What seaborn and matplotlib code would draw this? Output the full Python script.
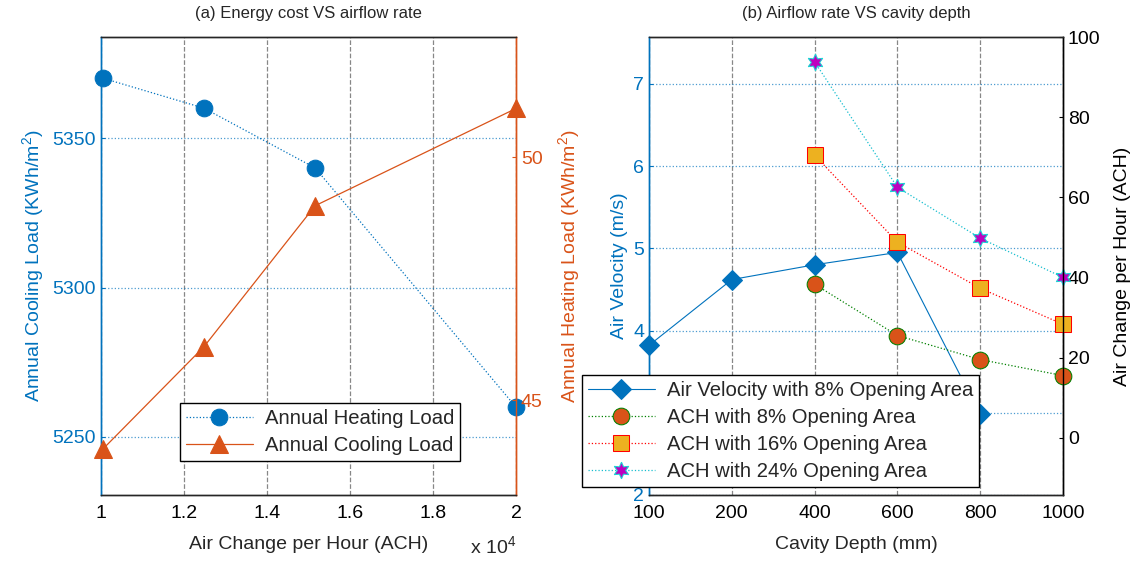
import numpy as np
import matplotlib
matplotlib.use('Agg')
import matplotlib.pyplot as plt
import seaborn as sns
from matplotlib.ticker import FuncFormatter

# (a) energy cost vs airflow rate
ach = [10050, 12480, 15160, 20000]
heating = [5370, 5360, 5340, 5260]      # plotted on left (blue) axis
cooling = [44.0, 46.1, 49.0, 51.0]      # plotted on right (orange) axis

# (b) airflow rate vs cavity depth
depths = ['100', '200', '400', '600', '800', '1000']
velocity = [3.82, 4.62, 4.80, 4.95, 2.98]
ach_depths = ['400', '600', '800', '1000']
ach8 = [38.3, 25.5, 19.5, 15.5]
ach16 = [70.5, 48.8, 37.3, 28.3]
ach24 = [93.8, 62.5, 49.8, 40.0]

BLUE = '#0072BD'
ORANGE = '#D95319'
YELLOW = '#EDB120'

sns.set_style('white')
plt.rcParams['font.family'] = ['Liberation Sans', 'DejaVu Sans']
plt.rcParams['font.size'] = 14
plt.rcParams['mathtext.fontset'] = 'custom'
plt.rcParams['mathtext.rm'] = 'Liberation Sans'

fig = plt.figure(figsize=(11.38, 5.67), dpi=100)
ax1 = fig.add_axes([0.0888, 0.127, 0.3646, 0.8077])
ax2 = ax1.twinx()
ax3 = fig.add_axes([0.5703, 0.127, 0.3638, 0.8077])
ax4 = ax3.twinx()


def style_axes(ax, left_color, right_color):
    for s in ax.spines.values():
        s.set_linewidth(1.0)
    ax.spines['left'].set_color(left_color)
    ax.spines['right'].set_color(right_color)
    ax.tick_params(direction='in', length=3, width=0.8)
    ax.tick_params(axis='x', pad=7)


# ---- panel (a)
sns.lineplot(x=ach, y=heating, ax=ax1, color=BLUE, marker='o', markersize=12,
             linestyle=':', linewidth=0.9, markeredgecolor=BLUE, label='Annual Heating Load',
             legend=False, clip_on=False, zorder=3)
sns.lineplot(x=ach, y=cooling, ax=ax2, color=ORANGE, marker='^', markersize=13,
             linewidth=0.9, markeredgecolor=ORANGE, label='Annual Cooling Load', legend=False,
             clip_on=False, zorder=3)

ax1.set_xlim(10000, 20000)
ax1.set_xticks([10000, 12000, 14000, 16000, 18000, 20000])
ax1.xaxis.set_major_formatter(FuncFormatter(lambda v, p: f'{v/1e4:g}'))
ax1.set_ylim(5230.6, 5383.8)
ax1.set_yticks([5250, 5300, 5350])
ax2.set_ylim(43.05, 52.47)
ax2.set_yticks([45, 50])

ax1.yaxis.grid(True, color=BLUE, linestyle=':', linewidth=0.9, alpha=0.7)
ax1.xaxis.grid(True, color='#555555', linestyle='--', linewidth=0.9, alpha=0.7)
ax1.tick_params(axis='y', colors=BLUE)
ax1.tick_params(axis='x', colors='black')
ax2.tick_params(axis='y', colors=ORANGE)
style_axes(ax1, BLUE, ORANGE)
style_axes(ax2, BLUE, ORANGE)

ax1.set_xlabel('Air Change per Hour (ACH)', labelpad=10)
ax1.set_ylabel('Annual Cooling Load (KWh/m$^2$)', color=BLUE, labelpad=4)
ax2.set_ylabel('Annual Heating Load (KWh/m$^2$)', color=ORANGE, labelpad=10)
ax1.set_title('(a) Energy cost VS airflow rate', fontsize=12, pad=14)
fig.text(0.413, 0.022, r'x 10$^4$', fontsize=14)

h1, l1 = ax1.get_legend_handles_labels()
h2, l2 = ax2.get_legend_handles_labels()
leg = ax2.legend(h1 + h2, l1 + l2, loc='upper left', bbox_to_anchor=(0.158, 0.290),
                 bbox_transform=fig.transFigure, fancybox=False, edgecolor='black',
                 framealpha=1, handlelength=3.3, borderpad=0.3, labelspacing=0.4,
                 handletextpad=0.6, borderaxespad=0, fontsize=14.6)
leg.get_frame().set_linewidth(1.0)

# ---- panel (b)
pos = {d: i for i, d in enumerate(depths)}
vel_x = [pos[d] for d in depths[:len(velocity)]]
ach_x = [pos[d] for d in ach_depths]

sns.lineplot(x=vel_x, y=velocity, ax=ax3, color=BLUE, marker='D', markersize=10,
             linewidth=0.8, markeredgecolor=BLUE, clip_on=False,
             label='Air Velocity with 8% Opening Area', legend=False)
sns.lineplot(x=ach_x, y=ach8, ax=ax4, color='green', marker='o', markersize=12,
             linestyle=':', linewidth=0.9, markerfacecolor=ORANGE, markeredgecolor='green',
             label='ACH with 8% Opening Area', legend=False, clip_on=False)
sns.lineplot(x=ach_x, y=ach16, ax=ax4, color='red', marker='s', markersize=11,
             linestyle=':', linewidth=0.9, markerfacecolor=YELLOW, markeredgecolor='red',
             label='ACH with 16% Opening Area', legend=False, clip_on=False)
sns.lineplot(x=ach_x, y=ach24, ax=ax4, color='#17BECF', marker=(6, 1, 0), markersize=12,
             linestyle=':', linewidth=0.9, markerfacecolor='#BF00BF', markeredgecolor='#17D4D4',
             label='ACH with 24% Opening Area', legend=False, clip_on=False)

ax3.set_xlim(0, len(depths) - 1)
ax3.set_xticks(range(len(depths)))
ax3.set_xticklabels(depths)
ax3.set_ylim(2.0, 7.57)
ax3.set_yticks([2, 3, 4, 5, 6, 7])
ax4.set_ylim(-14.3, 100)
ax4.set_yticks([0, 20, 40, 60, 80, 100])

ax3.yaxis.grid(True, color=BLUE, linestyle=':', linewidth=0.9, alpha=0.7)
ax3.xaxis.grid(True, color='#555555', linestyle='--', linewidth=0.9, alpha=0.7)
ax3.tick_params(axis='y', colors=BLUE)
ax3.tick_params(axis='x', colors='black')
ax4.tick_params(axis='y', colors='black')
style_axes(ax3, BLUE, 'black')
style_axes(ax4, BLUE, 'black')

ax3.set_xlabel('Cavity Depth (mm)', labelpad=10)
ax3.set_ylabel('Air Velocity (m/s)', color=BLUE, labelpad=4)
ax4.set_ylabel('Air Change per Hour (ACH)', color='black', labelpad=10)
ax3.set_title('(b) Airflow rate VS cavity depth', fontsize=12, pad=14)

h3, l3 = ax3.get_legend_handles_labels()
h4, l4 = ax4.get_legend_handles_labels()
leg2 = ax4.legend(h3 + h4, l3 + l4, loc='upper left', bbox_to_anchor=(0.511, 0.339),
                  bbox_transform=fig.transFigure, fancybox=False, edgecolor='black',
                  framealpha=1, handlelength=3.3, borderpad=0.3, labelspacing=0.4,
                  handletextpad=0.6, borderaxespad=0, fontsize=14.6)
leg2.get_frame().set_linewidth(1.0)
leg2.set_zorder(10)

fig.savefig('out.png', dpi=100)
